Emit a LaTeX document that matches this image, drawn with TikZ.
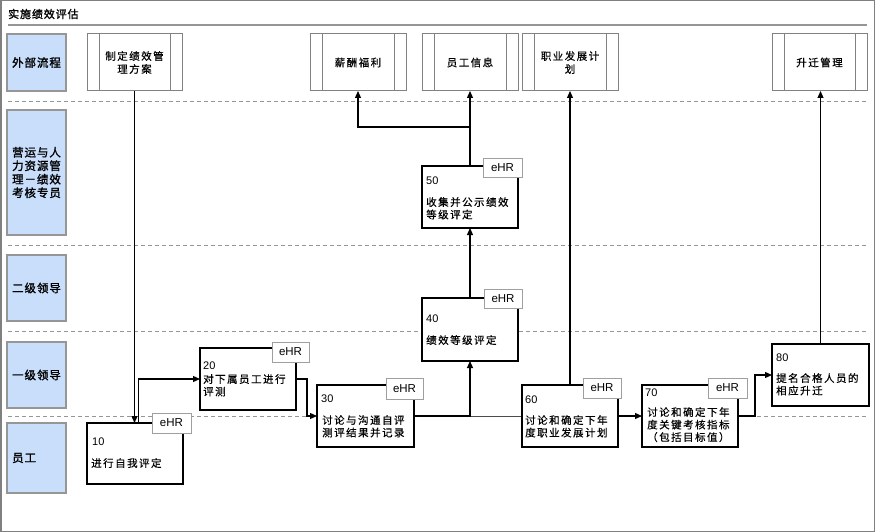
\documentclass[tikz,border=0pt]{standalone}
\usepackage{fontspec}
\setmainfont{Liberation Sans}
\newfontfamily\cjk[LetterSpace=14,FakeBold=0.4]{Noto Sans CJK SC}
\newfontfamily\cjkb[LetterSpace=8,FakeBold=1.4]{Noto Sans CJK SC}
\usetikzlibrary{arrows.meta}
\definecolor{lanefill}{RGB}{200,222,250}
\definecolor{lanedraw}{RGB}{150,150,150}
\definecolor{extdraw}{RGB}{130,130,130}
\definecolor{sepgray}{RGB}{150,150,150}
\definecolor{framegray}{RGB}{128,128,128}
\begin{document}
\begin{tikzpicture}[x=1pt,y=-1pt,
  lane/.style={draw=lanedraw,line width=1.2pt,fill=lanefill,minimum width=59,inner sep=0,outer sep=0,align=center,font=\cjkb\fontsize{11.5}{13.5}\selectfont},
  extbox/.style={draw=extdraw,line width=1pt,fill=white,minimum height=57,inner sep=0,outer sep=0,align=center,font=\cjk\fontsize{10.5}{13}\selectfont},
  extline/.style={draw=extdraw,line width=1pt},
  proc/.style={draw=black,line width=1.2pt,fill=white,minimum width=96,minimum height=62,inner sep=0,outer sep=0},
  tag/.style={draw=gray!75,line width=1pt,fill=white,minimum width=38,minimum height=20,inner sep=0,outer sep=0,font=\fontsize{11.5}{13}\selectfont},
  num/.style={anchor=west,inner sep=0,font=\fontsize{11}{13}\selectfont},
  txt/.style={anchor=north west,inner sep=0,align=left,font=\cjk\fontsize{10.5}{12.5}\selectfont},
  sep/.style={draw=sepgray,line width=0.8pt,dash pattern=on 4pt off 3pt},
  arr/.style={draw=black,line width=1.2pt,-{Triangle[length=7pt,width=6pt]}},
  conn/.style={draw=black!70,line width=1pt}
]
\useasboundingbox (0,0) rectangle (875,532);
\draw[framegray,line width=1.5pt] (0.75,0.75) rectangle (874.25,531.25);

% title
\node[anchor=west,inner sep=0,font=\cjkb\fontsize{11}{13}\selectfont] (title) at (8,14) {实施绩效评估};
\draw[sepgray,line width=1.5pt] (8,25) -- (867,25);

% separators
\draw[sep] (8,101) -- (867,101);
\draw[sep] (8,245.5) -- (867,245.5);
\draw[sep] (8,331) -- (867,331);
\draw[sep] (8,416) -- (867,416);

% lanes
\node[lane,minimum height=57] (L1) at (36.5,62.5) {外部流程};
\node[lane,minimum height=125] (L2) at (36.5,172.5) {营运与人\\力资源管\\理－绩效\\考核专员};
\node[lane,minimum height=66] (L3) at (36.5,288) {二级领导};
\node[lane,minimum height=66] (L4) at (36.5,375) {一级领导};
\node[lane,minimum height=70] (L5) at (36.5,458) {};
\node[anchor=west,inner sep=0,font=\cjkb\fontsize{11.5}{13}\selectfont] (L5t) at (12,458) {员工};

% external processes
\node[extbox,minimum width=95] (E1) at (134.5,62.5) {制定绩效管\\理方案};
\node[extbox,minimum width=96] (E2) at (358,62.5) {薪酬福利};
\node[extbox,minimum width=96] (E3) at (470,62.5) {员工信息};
\node[extbox,minimum width=96] (E4) at (570,62.5) {职业发展计\\划};
\node[extbox,minimum width=95] (E5) at (819.5,62.5) {升迁管理};
\foreach \e in {E1,E2,E3,E4,E5}{
  \draw[extline] ([xshift=12pt]\e.north west) -- ([xshift=12pt]\e.south west);
  \draw[extline] ([xshift=-12pt]\e.north east) -- ([xshift=-12pt]\e.south east);
}

% process boxes
\node[proc,minimum height=61] (n10) at (135,453.5) {};
\node[proc] (n20) at (248,379) {};
\node[proc,minimum width=97] (n30) at (365.5,416) {};
\node[proc,minimum height=63] (n40) at (470,329.5) {};
\node[proc] (n50) at (470,197) {};
\node[proc] (n60) at (570,416) {};
\node[proc] (n70) at (690,416) {};
\node[proc,minimum width=97] (n80) at (820.5,375) {};

% connectors
\draw[arr] (E1.south) -- (E1.south |- n10.north);
\draw[arr] ([xshift=3.5pt]n10.north) |- (n20.west);
\draw[arr] (n20.east) -- ++(11,0) |- (n30.west);
\draw[conn] (n30.east) -- (n60.west);
\draw[arr] (n30.east) -| (n40.south);
\draw[arr] (n40.north) -- (n50.south);
\draw[arr] (n50.north) -- (E3.south);
\draw[arr] (n50.north) -- ++(0,-39) -| (E2.south);
\draw[arr] (n60.north) -- (E4.south);
\draw[arr] (n60.east) -- (n70.west);
\draw[arr] (n70.east) -- ++(17,0) |- (n80.west);
\draw[arr] (n80.north) -- (n80.north |- E5.south);

% redraw boxes on top
\node[proc,minimum height=61] at (135,453.5) {};
\node[proc] at (248,379) {};
\node[proc,minimum width=97] at (365.5,416) {};
\node[proc,minimum height=63] at (470,329.5) {};
\node[proc] at (470,197) {};
\node[proc] at (570,416) {};
\node[proc] at (690,416) {};
\node[proc,minimum width=97] at (820.5,375) {};

% numbers and texts
\node[num] (n10a) at ([shift={(5,19)}]n10.north west) {10};
\node[txt] (n10b) at ([shift={(4,35)}]n10.north west) {进行自我评定};
\node[num] (n20a) at ([shift={(3,18)}]n20.north west) {20};
\node[txt] (n20b) at ([shift={(3,26)}]n20.north west) {对下属员工进行\\评测};
\node[num] (n30a) at ([shift={(4,14)}]n30.north west) {30};
\node[txt] (n30b) at ([shift={(5,30)}]n30.north west) {讨论与沟通自评\\测评结果并记录};
\node[num] (n40a) at ([shift={(4,21)}]n40.north west) {40};
\node[txt] (n40b) at ([shift={(4,37)}]n40.north west) {绩效等级评定};
\node[num] (n50a) at ([shift={(4,15)}]n50.north west) {50};
\node[txt] (n50b) at ([shift={(4,31)}]n50.north west) {收集并公示绩效\\等级评定};
\node[num] (n60a) at ([shift={(3,15)}]n60.north west) {60};
\node[txt] (n60b) at ([shift={(3,30)}]n60.north west) {讨论和确定下年\\度职业发展计划};
\node[num] (n70a) at ([shift={(3,8)}]n70.north west) {70};
\node[txt] (n70b) at ([shift={(5,22)}]n70.north west) {讨论和确定下年\\度关键考核指标\\（包括目标值）};
\node[num] (n80a) at ([shift={(4,14)}]n80.north west) {80};
\node[txt] (n80b) at ([shift={(4,29)}]n80.north west) {提名合格人员的\\相应升迁};

% eHR tags
\node[tag,minimum width=39] (e10) at (171.5,423) {eHR};
\node[tag,minimum width=37] (e20) at (290.5,352) {eHR};
\node[tag,minimum width=37,minimum height=21] (e30) at (404.5,388.5) {eHR};
\node[tag,minimum height=19] (e40) at (503,298.5) {eHR};
\node[tag,minimum width=39,minimum height=19] (e50) at (502.5,167.5) {eHR};
\node[tag] (e60) at (602,388) {eHR};
\node[tag,minimum width=39] (e70) at (727.5,388) {eHR};
\end{tikzpicture}
\end{document}
